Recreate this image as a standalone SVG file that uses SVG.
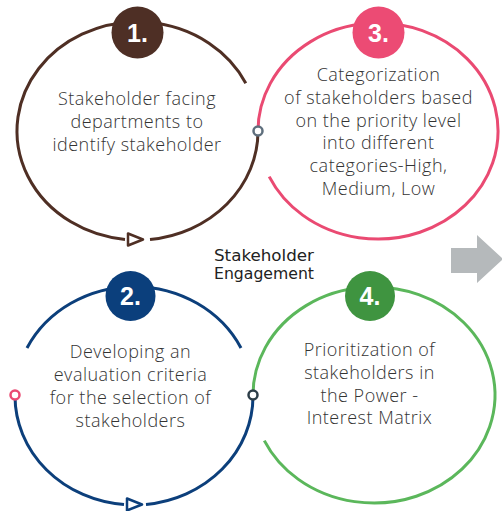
<svg xmlns="http://www.w3.org/2000/svg" width="502" height="511" viewBox="0 0 502 511">
<style>
.ln{fill:none;stroke-width:3;stroke-linecap:butt}
.txt{font-family:"Open Sans","DejaVu Sans",sans-serif;font-weight:300;font-size:18px;letter-spacing:0.5px;fill:#333;text-anchor:middle}
.num{font-family:"Liberation Sans",Arial,sans-serif;font-weight:bold;font-size:25px;fill:#fff;text-anchor:middle}
.node{fill:#fff;stroke-width:2.5}
.lbl{font-family:"DejaVu Sans",sans-serif;font-size:15px;font-weight:500;fill:#222;text-anchor:middle}
</style>
<rect width="502" height="511" fill="#fff"/>
<g id="connectors">
  <path class="ln" stroke="#4f2f24" d="M258,131 A120.5,109 0 0 1 150,239.4 M125,239.4 A120.5,109 0 1 1 245.8,83.2"/>
  <polygon points="128,233.5 128,245.5 143,239.5" fill="#fff" stroke="#4f2f24" stroke-width="2.5" stroke-linejoin="round"/>
  <path class="ln" stroke="#ea4a72" d="M258,131 A120,108 0 1 1 269.2,176.6"/>
  <path class="ln" stroke="#0c3f7b" d="M253,396 A119,109 0 0 1 146,504.4 M124,504.5 A119,109 0 0 1 15,396 M27,348 A119,109 0 0 1 241,348"/>
  <polygon points="127,498.5 127,510.5 142,504.5" fill="#fff" stroke="#0c3f7b" stroke-width="2.5" stroke-linejoin="round"/>
  <path class="ln" stroke="#5bb75b" d="M253,395 A121,108 0 1 1 264.3,440.6"/>
  <circle class="node" cx="258" cy="131" r="4.5" stroke="#5f6f7d"/>
  <circle class="node" cx="15" cy="395" r="4.5" stroke="#ea4a72"/>
  <circle class="node" cx="253" cy="395" r="4.5" stroke="#2d3e48"/>
</g>
<g id="node1">
  <circle cx="137.5" cy="32.5" r="26" fill="#4e2f25"/>
  <text class="num" x="137.5" y="41.5">1.</text>
  <text class="txt" x="137" y="105">Stakeholder facing</text>
  <text class="txt" x="137" y="128">departments to</text>
  <text class="txt" x="137" y="151">identify stakeholder</text>
</g>
<g id="node3">
  <circle cx="378.5" cy="32.5" r="26" fill="#ec4b74"/>
  <text class="num" x="378.5" y="41.5">3.</text>
  <text class="txt" x="378.5" y="81">Categorization</text>
  <text class="txt" x="378.5" y="104">of stakeholders based</text>
  <text class="txt" x="378.5" y="127">on the priority level</text>
  <text class="txt" x="378.5" y="149">into different</text>
  <text class="txt" x="378.5" y="172">categories-High,</text>
  <text class="txt" x="378.5" y="195">Medium, Low</text>
</g>
<g id="node2">
  <circle cx="130.5" cy="296" r="25" fill="#0b3f7c"/>
  <text class="num" x="130.5" y="305">2.</text>
  <text class="txt" x="130.5" y="358">Developing an</text>
  <text class="txt" x="130.5" y="381">evaluation criteria</text>
  <text class="txt" x="130.5" y="404">for the selection of</text>
  <text class="txt" x="130.5" y="427">stakeholders</text>
</g>
<g id="node4">
  <circle cx="370" cy="296" r="25" fill="#3f9440"/>
  <text class="num" x="370" y="305">4.</text>
  <text class="txt" x="369.5" y="356">Prioritization of</text>
  <text class="txt" x="369.5" y="379">stakeholders in</text>
  <text class="txt" x="369.5" y="402">the Power -</text>
  <text class="txt" x="369.5" y="424">Interest Matrix</text>
</g>
<g id="center-label">
  <text class="lbl" x="264" y="261" textLength="100" lengthAdjust="spacingAndGlyphs">Stakeholder</text>
  <text class="lbl" x="264" y="279" textLength="100" lengthAdjust="spacingAndGlyphs">Engagement</text>
</g>
<g id="arrow">
  <polygon points="451,248 477,248 477,235 503,259 477,283 477,273 451,273" fill="#b5b9bb"/>
</g>
</svg>
